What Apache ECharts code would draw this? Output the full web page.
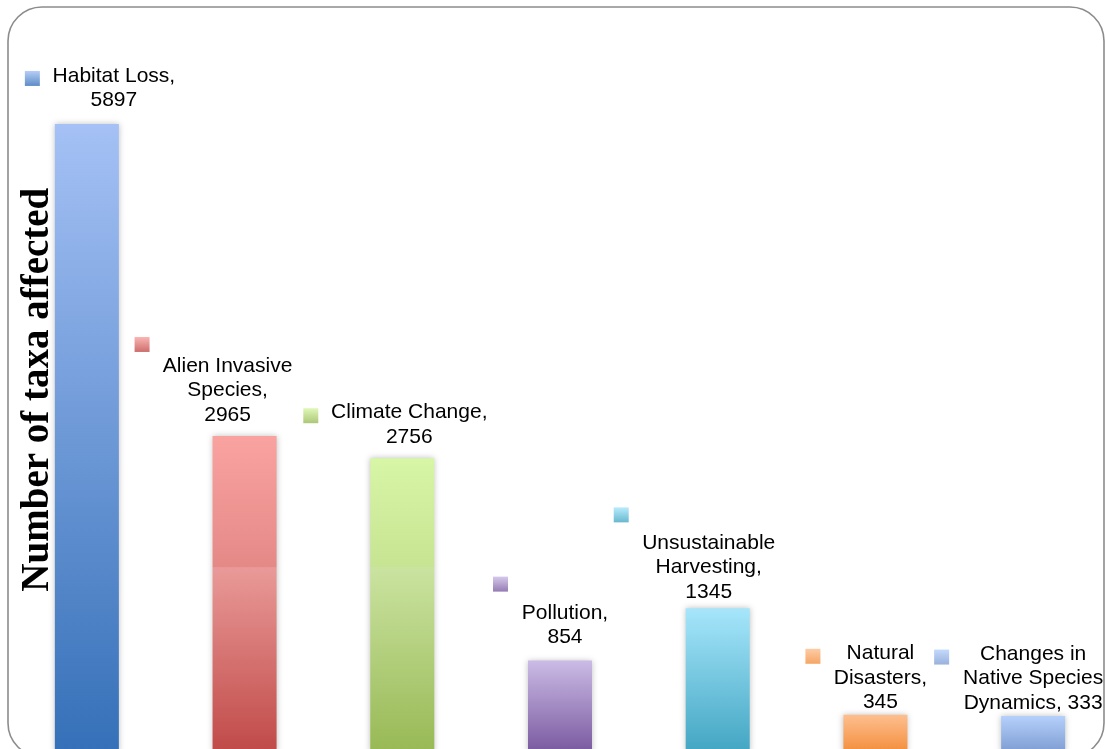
<!DOCTYPE html>
<html>
<head>
<meta charset="utf-8">
<script src="https://cdn.jsdelivr.net/npm/echarts@6/dist/echarts.min.js"></script>
<style>
  html, body { margin: 0; padding: 0; overflow: hidden; background: #ffffff; }
  #chart { width: 1112px; height: 752px; }
</style>
</head>
<body>
<div id="chart"></div>
<script>
// Threats and the number of taxa each one affects
const categories = [
  'Habitat Loss',
  'Alien Invasive Species',
  'Climate Change',
  'Pollution',
  'Unsustainable Harvesting',
  'Natural Disasters',
  'Changes in Native Species Dynamics'
];
const taxaAffected = [5897, 2965, 2756, 854, 1345, 345, 333];

// How each category name wraps inside its data label
const nameLines = [
  ['Habitat Loss'],
  ['Alien Invasive', 'Species'],
  ['Climate Change'],
  ['Pollution'],
  ['Unsustainable', 'Harvesting'],
  ['Natural', 'Disasters'],
  ['Changes in', 'Native Species', 'Dynamics']
];
// Whether the value gets its own line under the name
const valueOnOwnLine = [true, true, true, true, true, true, false];

// Bar fill colours, light at the top to deep at the base
const topColors = ['#a5c1f5', '#f9a3a0', '#d7f6a6', '#cbbbe5', '#a6e6fb', '#fdbf8f', '#b5d0fb'];
const baseColors = ['#3570b8', '#c04a48', '#98b955', '#7a5aa0', '#43a6c3', '#f48f3e', '#7f9dd3'];
// Glossy step in the fill of some bars: colours just above / just below the step
const stepAbove = [null, '#e58987', '#c7e492', null, null, null, null];
const stepBelow = [null, '#e99a98', '#cae3a0', null, null, null, null];
const stepAtValue = 1734;

// Label placement relative to the top of each bar (px)
const labelOffsets = [[27, -11], [-17, -9], [7, -9], [5, -11], [-9, -4], [5, 0], [0, -1]];
// Legend-key square placement relative to the top of each bar (px)
const keyOffsets = [[-54.5, -45.5], [-102.5, -91.5], [-91.5, -42.5], [-59.5, -76.5], [-96.5, -93.5], [-62.5, -58.5], [-91.5, -59]];

function fade(i) {
  return new echarts.graphic.LinearGradient(0, 0, 0, 1, [
    { offset: 0, color: topColors[i] },
    { offset: 1, color: baseColors[i] }
  ]);
}

function barFill(i) {
  if (!stepAbove[i]) return fade(i);
  const f = 1 - stepAtValue / taxaAffected[i];
  return new echarts.graphic.LinearGradient(0, 0, 0, 1, [
    { offset: 0, color: topColors[i] },
    { offset: f, color: stepAbove[i] },
    { offset: f + 0.002, color: stepBelow[i] },
    { offset: 1, color: baseColors[i] }
  ]);
}

function labelText(i) {
  const lines = nameLines[i].slice();
  const last = lines.length - 1;
  if (valueOnOwnLine[i]) {
    lines[last] += ',';
    lines.push(String(taxaAffected[i]));
  } else {
    lines[last] += ', ' + taxaAffected[i];
  }
  return lines.join('\n');
}

const barData = taxaAffected.map((v, i) => ({
  value: v,
  itemStyle: { color: barFill(i) },
  label: { offset: labelOffsets[i] }
}));

const keyData = taxaAffected.map((v, i) => ({
  value: v,
  symbolOffset: keyOffsets[i],
  itemStyle: { color: fade(i) }
}));

const chart = echarts.init(document.getElementById('chart'), null, { renderer: 'canvas' });

chart.setOption({
  animation: false,
  backgroundColor: '#ffffff',
  graphic: [{
    type: 'rect',
    silent: true,
    z: -10,
    shape: { x: 8, y: 7, width: 1096, height: 750, r: 34 },
    style: { fill: null, stroke: '#8c8c8c', lineWidth: 1.6 }
  }],
  grid: { left: 8, right: 0, top: 27.84, bottom: 0.5, containLabel: false, outerBoundsMode: 'none' },
  xAxis: {
    type: 'category',
    data: categories,
    axisLine: { show: false },
    axisTick: { show: false },
    axisLabel: { show: false },
    splitLine: { show: false }
  },
  yAxis: {
    type: 'value',
    min: 0,
    max: 6800,
    name: 'Number of taxa affected',
    nameLocation: 'middle',
    nameRotate: 90,
    nameGap: -49,
    nameTextStyle: {
      fontFamily: 'Liberation Serif',
      fontWeight: 'bold',
      fontSize: 39,
      color: '#000000'
    },
    axisLine: { show: false },
    axisTick: { show: false },
    axisLabel: { show: false },
    splitLine: { show: false }
  },
  series: [
    {
      type: 'bar',
      data: barData,
      barWidth: 64,
      itemStyle: {
        shadowBlur: 6,
        shadowColor: 'rgba(0,0,0,0.25)'
      },
      label: {
        show: true,
        position: 'top',
        distance: 0,
        align: 'center',
        fontFamily: 'Liberation Sans',
        fontSize: 21,
        lineHeight: 24.5,
        color: '#000000',
        formatter: p => labelText(p.dataIndex)
      },
      z: 2
    },
    {
      type: 'scatter',
      data: keyData,
      symbol: 'rect',
      symbolSize: 15,
      silent: true,
      z: 3
    }
  ]
});
</script>
</body>
</html>
